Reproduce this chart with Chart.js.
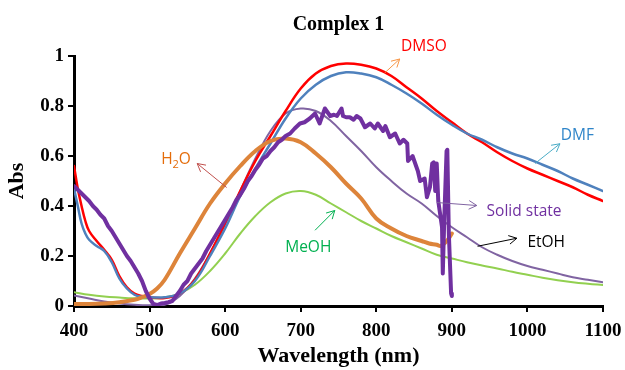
<!DOCTYPE html>
<html>
<head>
<meta charset="utf-8">
<script src="https://cdn.jsdelivr.net/npm/chart.js@4/dist/chart.umd.min.js"></script>
<style>
  html, body { margin: 0; padding: 0; background: #fff; }
  #wrap { width: 625px; height: 370px; position: relative; }
</style>
</head>
<body>
<div id="wrap"><canvas id="abs-chart"></canvas></div>
<script>
/* Complex 1 – UV-Vis absorbance in different solvents and solid state */

const xTicks = [400, 500, 600, 700, 800, 900, 1000, 1100];
const yTicks = [0, 0.2, 0.4, 0.6, 0.8, 1];

// DMSO
const dmsoWl  = [400, 405, 410, 415, 420, 430, 440, 450, 460, 470, 480, 490, 500, 520, 540, 560, 580, 600, 620, 640, 660, 680, 700, 720, 740, 760, 780, 800, 820, 840, 860, 880, 900, 920, 940, 960, 980, 1000, 1020, 1040, 1060, 1080, 1100];
const dmsoAbs = [0.56, 0.47, 0.40, 0.34, 0.30, 0.26, 0.225, 0.185, 0.12, 0.075, 0.05, 0.04, 0.035, 0.032, 0.05, 0.105, 0.21, 0.33, 0.46, 0.58, 0.68, 0.78, 0.87, 0.93, 0.96, 0.97, 0.965, 0.95, 0.92, 0.875, 0.83, 0.78, 0.735, 0.69, 0.655, 0.615, 0.58, 0.55, 0.525, 0.50, 0.475, 0.445, 0.42];

// DMF
const dmfWl  = [400, 405, 410, 415, 420, 430, 440, 450, 460, 470, 480, 490, 500, 520, 540, 560, 580, 600, 620, 640, 660, 680, 700, 720, 740, 760, 780, 800, 820, 840, 860, 880, 900, 920, 940, 960, 980, 1000, 1020, 1040, 1060, 1080, 1100];
const dmfAbs = [0.47, 0.40, 0.33, 0.29, 0.265, 0.24, 0.22, 0.175, 0.11, 0.07, 0.045, 0.037, 0.035, 0.035, 0.05, 0.10, 0.20, 0.31, 0.44, 0.55, 0.65, 0.75, 0.83, 0.885, 0.92, 0.935, 0.93, 0.915, 0.885, 0.85, 0.81, 0.765, 0.725, 0.69, 0.665, 0.635, 0.61, 0.59, 0.565, 0.54, 0.51, 0.485, 0.46];

// EtOH
const etohWl  = [400, 420, 440, 460, 480, 500, 520, 540, 560, 580, 600, 620, 640, 660, 680, 700, 720, 740, 760, 780, 800, 820, 840, 860, 880, 900, 920, 940, 960, 980, 1000, 1020, 1040, 1060, 1080, 1100];
const etohAbs = [0.042, 0.03, 0.018, 0.01, 0.005, 0.003, 0.005, 0.04, 0.11, 0.21, 0.33, 0.46, 0.59, 0.70, 0.77, 0.79, 0.78, 0.74, 0.68, 0.62, 0.555, 0.50, 0.45, 0.41, 0.36, 0.315, 0.275, 0.235, 0.205, 0.18, 0.16, 0.145, 0.13, 0.115, 0.105, 0.095];

// MeOH
const meohWl  = [400, 420, 440, 460, 480, 500, 520, 540, 560, 580, 600, 620, 640, 660, 680, 700, 720, 740, 760, 780, 800, 820, 840, 860, 880, 900, 920, 940, 960, 980, 1000, 1020, 1040, 1060, 1080, 1100];
const meohAbs = [0.055, 0.045, 0.038, 0.034, 0.031, 0.03, 0.034, 0.05, 0.085, 0.14, 0.21, 0.29, 0.36, 0.415, 0.45, 0.46, 0.445, 0.41, 0.375, 0.34, 0.31, 0.28, 0.255, 0.23, 0.205, 0.19, 0.175, 0.162, 0.15, 0.137, 0.125, 0.113, 0.103, 0.095, 0.089, 0.084];

// H2O
const h2oWl  = [400, 420, 440, 460, 480, 490, 500, 510, 520, 540, 560, 580, 600, 620, 640, 660, 680, 700, 720, 740, 760, 780, 800, 820, 840, 860, 870, 880, 885, 890, 893, 896, 900];
const h2oAbs = [0.008, 0.008, 0.01, 0.015, 0.025, 0.035, 0.048, 0.07, 0.105, 0.21, 0.31, 0.41, 0.49, 0.56, 0.62, 0.66, 0.67, 0.655, 0.61, 0.555, 0.49, 0.43, 0.35, 0.31, 0.28, 0.26, 0.25, 0.245, 0.24, 0.25, 0.26, 0.27, 0.29];

// Solid state (noisy trace)
const solidWl  = [400, 405, 410, 415, 420, 425, 430, 435, 440, 445, 450, 455, 460, 465, 470, 475, 480, 485, 490, 495, 500, 505, 510, 515, 520, 525, 530, 535, 540, 545, 550, 555, 560, 565, 570, 575, 580, 585, 590, 595, 600, 605, 610, 615, 620, 625, 630, 635, 640, 645, 650, 655, 660, 665, 670, 675, 680, 686, 692, 699, 705, 712, 719, 725, 732, 739, 744, 748, 754, 756, 760, 765, 770, 774, 779, 785, 792, 798, 802, 809, 812, 818, 825, 831, 836, 841, 842, 848, 855, 858, 864, 867, 871, 874, 876, 878, 880, 882, 887, 888, 890, 893, 894, 896, 899, 900];
const solidAbs = [0.48, 0.465, 0.45, 0.435, 0.42, 0.40, 0.385, 0.365, 0.35, 0.32, 0.30, 0.275, 0.25, 0.225, 0.20, 0.18, 0.155, 0.13, 0.10, 0.06, 0.03, 0.008, 0.004, 0.01, 0.012, 0.015, 0.02, 0.04, 0.06, 0.085, 0.10, 0.13, 0.15, 0.17, 0.19, 0.22, 0.245, 0.27, 0.295, 0.32, 0.345, 0.37, 0.395, 0.425, 0.445, 0.47, 0.50, 0.52, 0.545, 0.565, 0.59, 0.60, 0.62, 0.635, 0.655, 0.665, 0.68, 0.69, 0.71, 0.73, 0.735, 0.75, 0.77, 0.73, 0.79, 0.76, 0.765, 0.76, 0.79, 0.76, 0.755, 0.755, 0.745, 0.76, 0.75, 0.715, 0.73, 0.71, 0.73, 0.70, 0.72, 0.675, 0.69, 0.65, 0.665, 0.65, 0.58, 0.60, 0.54, 0.50, 0.51, 0.435, 0.475, 0.57, 0.575, 0.46, 0.57, 0.42, 0.315, 0.13, 0.35, 0.62, 0.625, 0.29, 0.05, 0.04];

// Text labels with arrows, in data units
const annotations = [
  { text: 'DMSO',        color: '#FF0000', at: [863, 1.036], align: 'center', from: [811, 0.932], to: [831, 0.988], arrow: '#F79646' },
  { text: 'DMF',         color: '#2F85C9', at: [1066, 0.681], align: 'center', from: [1010, 0.570], to: [1043, 0.649], arrow: '#4BACC6' },
  { text: 'H2O',         color: '#E46C0A', at: [535, 0.586], align: 'center', from: [602, 0.474], to: [563, 0.570], arrow: '#C0504D', sub: true },
  { text: 'MeOH',        color: '#00B050', at: [710, 0.235], align: 'center', from: [719, 0.303], to: [745, 0.382], arrow: '#00B050' },
  { text: 'Solid state', color: '#7030A0', at: [946, 0.378], align: 'left',   from: [880, 0.414], to: [933, 0.402], arrow: '#8064A2' },
  { text: 'EtOH',        color: '#000000', at: [1000, 0.255], align: 'left',  from: [934, 0.239], to: [986, 0.271], arrow: '#000000' },
];

const SERIF = "'Liberation Serif', 'Times New Roman', serif";
const SANS  = "'Open Sans', 'Noto Sans', sans-serif";

function pts(wl, abs) {
  return wl.map((x, i) => ({ x, y: abs[i] }));
}

function series(label, wl, abs, color, width, smooth) {
  return {
    label,
    data: pts(wl, abs),
    borderColor: color,
    borderWidth: width,
    pointRadius: 0,
    fill: false,
    tension: smooth ? 0.4 : 0,
    borderJoinStyle: 'round',
    borderCapStyle: 'round',
  };
}

const labelPlugin = {
  id: 'labels',
  afterDatasetsDraw(chart) {
    const { ctx, scales: { x, y } } = chart;
    ctx.save();
    annotations.forEach(a => {
      // arrow line with open head
      const x1 = x.getPixelForValue(a.from[0]), y1 = y.getPixelForValue(a.from[1]);
      const x2 = x.getPixelForValue(a.to[0]),   y2 = y.getPixelForValue(a.to[1]);
      const ang = Math.atan2(y2 - y1, x2 - x1);
      ctx.strokeStyle = a.arrow;
      ctx.lineWidth = 1;
      ctx.beginPath();
      ctx.moveTo(x1, y1);
      ctx.lineTo(x2, y2);
      ctx.moveTo(x2 - 9 * Math.cos(ang - 0.5), y2 - 9 * Math.sin(ang - 0.5));
      ctx.lineTo(x2, y2);
      ctx.lineTo(x2 - 9 * Math.cos(ang + 0.5), y2 - 9 * Math.sin(ang + 0.5));
      ctx.stroke();

      // text
      const tx = x.getPixelForValue(a.at[0]), ty = y.getPixelForValue(a.at[1]);
      ctx.fillStyle = a.color;
      ctx.textBaseline = 'middle';
      if (a.sub) {
        const big = '15.5px ' + SANS, small = '11px ' + SANS;
        ctx.font = big;   const wH = ctx.measureText('H').width, wO = ctx.measureText('O').width;
        ctx.font = small; const w2 = ctx.measureText('2').width;
        let cx = tx - (wH + w2 + wO) / 2;
        ctx.textAlign = 'left';
        ctx.font = big;   ctx.fillText('H', cx, ty); cx += wH;
        ctx.font = small; ctx.fillText('2', cx, ty + 5); cx += w2;
        ctx.font = big;   ctx.fillText('O', cx, ty);
      } else {
        ctx.font = '15.5px ' + SANS;
        ctx.textAlign = a.align;
        ctx.fillText(a.text, tx, ty);
      }
    });
    ctx.restore();
  }
};

new Chart(document.getElementById('abs-chart'), {
  type: 'line',
  data: {
    datasets: [
      series('Solid state', solidWl, solidAbs, '#7030A0', 4, false),
      series('H2O',  h2oWl,  h2oAbs,  '#DD843A', 4, true),
      series('DMF',  dmfWl,  dmfAbs,  '#4F81BD', 2.5, true),
      series('DMSO', dmsoWl, dmsoAbs, '#FF0000', 2.5, true),
      series('EtOH', etohWl, etohAbs, '#8064A2', 2, true),
      series('MeOH', meohWl, meohAbs, '#92D050', 2, true),
    ]
  },
  options: {
    responsive: true,
    maintainAspectRatio: false,
    animation: false,
    layout: { padding: { left: 0, right: 22, top: 2, bottom: 0 } },
    scales: {
      x: {
        type: 'linear',
        min: 400, max: 1100,
        afterBuildTicks: s => { s.ticks = xTicks.map(v => ({ value: v })); },
        afterFit: s => { s.height = 64; s.paddingLeft = 0; s.paddingRight = 0; },
        grid:   { drawOnChartArea: false, drawTicks: true, tickLength: 6, color: '#000', lineWidth: 2 },
        border: { color: '#000', width: 3 },
        ticks:  { color: '#000', padding: 8, maxRotation: 0, callback: v => String(v), font: { family: SERIF, size: 19, weight: 'bold' } },
        title:  { display: true, text: 'Wavelength (nm)', color: '#000', padding: { top: 0, bottom: 0 }, font: { family: SERIF, size: 22, weight: 'bold' } },
      },
      y: {
        min: 0, max: 1,
        afterBuildTicks: s => { s.ticks = yTicks.map(v => ({ value: v })); },
        afterFit: s => { s.width = 74; },
        grid:   { drawOnChartArea: false, drawTicks: true, tickLength: 6, color: '#000', lineWidth: 2 },
        border: { color: '#000', width: 3 },
        ticks:  { color: '#000', padding: 4, callback: v => String(v), font: { family: SERIF, size: 19, weight: 'bold' } },
        title:  { display: true, text: 'Abs', color: '#000', padding: { top: 4, bottom: 0 }, font: { family: SERIF, size: 22, weight: 'bold' } },
      }
    },
    plugins: {
      legend:  { display: false },
      tooltip: { enabled: false },
      title: {
        display: true,
        text: 'Complex 1',
        color: '#000',
        fullSize: false,
        padding: { top: 12, bottom: 20 },
        font: { family: SERIF, size: 20, weight: 'bold', lineHeight: 1.1 }
      }
    }
  },
  plugins: [labelPlugin]
});
</script>
</body>
</html>
